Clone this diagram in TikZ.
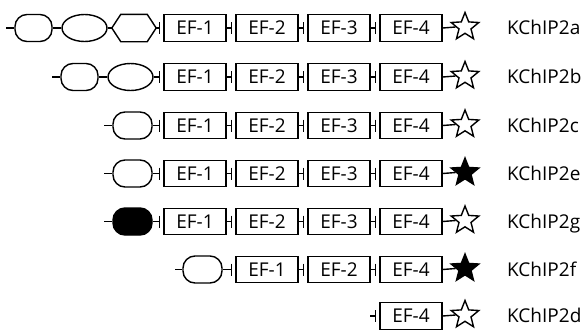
\documentclass[tikz,border=0pt]{standalone}
\usepackage{fontspec}
\setmainfont{Open Sans}
\usetikzlibrary{shapes.geometric}
\newcommand\mkjoin[2]{\draw[ln] (#1.east) -- ([xshift=-4pt]#2.west) ([xshift=-4pt,yshift=6pt]#2.west) -- ([xshift=-4pt,yshift=-6pt]#2.west);}
\newcommand\mkhex[1]{\draw[ln] (#1.west) -- ([xshift=9pt]#1.north west) -- ([xshift=-9pt]#1.north east) -- (#1.east) -- ([xshift=-9pt]#1.south east) -- ([xshift=9pt]#1.south west) -- cycle;}
\tikzset{
 ln/.style={line width=1.4pt},
 efbox/.style={draw, line width=1.4pt, minimum width=62pt, minimum height=26.5pt, inner sep=0pt, font=\fontsize{19}{22}\selectfont},
 rbox/.style={draw, line width=1.4pt, rounded corners=12pt, minimum width=39pt, minimum height=27pt, inner sep=0pt},
 ell/.style={draw, ellipse, line width=1.4pt, minimum width=45pt, minimum height=27pt, inner sep=0pt},
 hexn/.style={minimum width=44pt, minimum height=27pt, inner sep=0pt},
 starw/.style={draw, star, star points=5, star point ratio=2.3, minimum size=29pt, inner sep=0pt, line width=1.4pt},
 starb/.style={starw, fill=black},
 lbl/.style={anchor=base west, inner sep=0pt, font=\fontsize{19}{22}\selectfont},
}
\begin{document}
\begin{tikzpicture}[x=1pt,y=-1pt]
\useasboundingbox (0,0) rectangle (586,330);
% Row 1 KChIP2a
\coordinate (s1) at (6,28);
\node[rbox,minimum width=37pt] (a1) at (33.5,28) {};
\node[ell] (b1) at (84.5,28) {};
\node[hexn] (h1) at (134,28) {};
\mkhex{h1}
\node[efbox] (e11) at (195,28) {EF-1};
\node[efbox] (e12) at (267,28) {EF-2};
\node[efbox] (e13) at (339,28) {EF-3};
\node[efbox] (e14) at (411,28) {EF-4};
\node[starw] (st1) at (465,27) {};
\node[lbl] (l1) at (507,34.8) {KChIP2a};
\draw[ln] (s1) -- (a1.west) (a1.east) -- (b1.west) (b1.east) -- (h1.west);
\mkjoin{h1}{e11}\mkjoin{e11}{e12}\mkjoin{e12}{e13}\mkjoin{e13}{e14}
\draw[ln] (e14.east) -- (st1.west);
% Row 2 KChIP2b
\coordinate (s2) at (52,77);
\node[rbox,minimum width=37pt] (a2) at (79.5,77) {};
\node[ell] (b2) at (130.5,77) {};
\node[efbox] (e21) at (195,77) {EF-1};
\node[efbox] (e22) at (267,77) {EF-2};
\node[efbox] (e23) at (339,77) {EF-3};
\node[efbox] (e24) at (411,77) {EF-4};
\node[starw] (st2) at (465,76) {};
\node[lbl] (l2) at (507,83.8) {KChIP2b};
\draw[ln] (s2) -- (a2.west) (a2.east) -- (b2.west);
\mkjoin{b2}{e21}\mkjoin{e21}{e22}\mkjoin{e22}{e23}\mkjoin{e23}{e24}
\draw[ln] (e24.east) -- (st2.west);
% Row 3 KChIP2c
\coordinate (s3) at (104,125.5);
\node[rbox] (a3) at (132.5,125.5) {};
\node[efbox] (e31) at (195,125.5) {EF-1};
\node[efbox] (e32) at (267,125.5) {EF-2};
\node[efbox] (e33) at (339,125.5) {EF-3};
\node[efbox] (e34) at (411,125.5) {EF-4};
\node[starw] (st3) at (465,124.5) {};
\node[lbl] (l3) at (507,132.3) {KChIP2c};
\draw[ln] (s3) -- (a3.west);
\mkjoin{a3}{e31}\mkjoin{e31}{e32}\mkjoin{e32}{e33}\mkjoin{e33}{e34}
\draw[ln] (e34.east) -- (st3.west);
% Row 4 KChIP2e
\coordinate (s4) at (104,173.5);
\node[rbox] (a4) at (132.5,173.5) {};
\node[efbox] (e41) at (195,173.5) {EF-1};
\node[efbox] (e42) at (267,173.5) {EF-2};
\node[efbox] (e43) at (339,173.5) {EF-3};
\node[efbox] (e44) at (411,173.5) {EF-4};
\node[starb] (st4) at (465,172.5) {};
\node[lbl] (l4) at (507,180.3) {KChIP2e};
\draw[ln] (s4) -- (a4.west);
\mkjoin{a4}{e41}\mkjoin{e41}{e42}\mkjoin{e42}{e43}\mkjoin{e43}{e44}
\draw[ln] (e44.east) -- (st4.west);
% Row 5 KChIP2g
\coordinate (s5) at (104,221.5);
\node[rbox,fill=black] (a5) at (132.5,221.5) {};
\node[efbox] (e51) at (195,221.5) {EF-1};
\node[efbox] (e52) at (267,221.5) {EF-2};
\node[efbox] (e53) at (339,221.5) {EF-3};
\node[efbox] (e54) at (411,221.5) {EF-4};
\node[starw] (st5) at (465,220.5) {};
\node[lbl] (l5) at (507,228.3) {KChIP2g};
\draw[ln] (s5) -- (a5.west);
\mkjoin{a5}{e51}\mkjoin{e51}{e52}\mkjoin{e52}{e53}\mkjoin{e53}{e54}
\draw[ln] (e54.east) -- (st5.west);
% Row 6 KChIP2f
\coordinate (s6) at (175,269.5);
\node[rbox] (a6) at (202.5,269.5) {};
\node[efbox] (e61) at (267,269.5) {EF-1};
\node[efbox] (e62) at (339,269.5) {EF-2};
\node[efbox] (e64) at (411,269.5) {EF-4};
\node[starb] (st6) at (465,268.5) {};
\node[lbl] (l6) at (507,276.3) {KChIP2f};
\draw[ln] (s6) -- (a6.west);
\mkjoin{a6}{e61}\mkjoin{e61}{e62}\mkjoin{e62}{e64}
\draw[ln] (e64.east) -- (st6.west);
% Row 7 KChIP2d
\coordinate (s7) at (370,316);
\node[efbox] (e74) at (411,316) {EF-4};
\node[starw] (st7) at (465,315) {};
\node[lbl] (l7) at (507,322.8) {KChIP2d};
\draw[ln] (s7) -- ([xshift=-4pt]e74.west) ([xshift=-4pt,yshift=6pt]e74.west) -- ([xshift=-4pt,yshift=-6pt]e74.west);
\draw[ln] (e74.east) -- (st7.west);
\end{tikzpicture}
\end{document}
